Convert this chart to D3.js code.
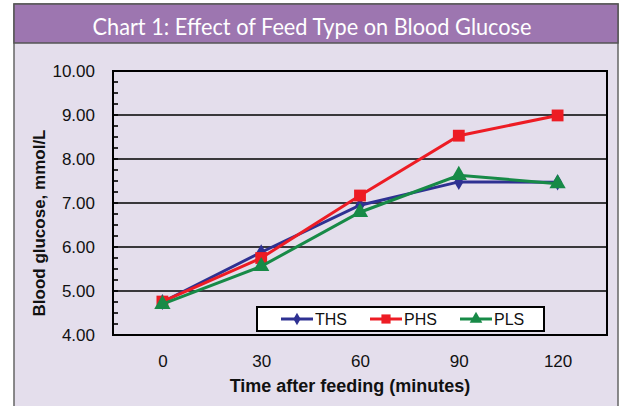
<!DOCTYPE html>
<meta charset="utf-8">
<style>
html, body { margin: 0; padding: 0; background: #fff; }
svg { display: block; }
</style>
<body>
<script src="https://d3js.org/d3.v7.min.js"></script>
<script>

var width = 624,
    height = 406;

// data
var times = ["0", "30", "60", "90", "120"];
var ths = [4.75, 5.88, 6.95, 7.48, 7.47];
var phs = [4.76, 5.75, 7.17, 8.53, 8.99];
var pls = [4.70, 5.56, 6.79, 7.63, 7.44];
var yTicks = [4, 5, 6, 7, 8, 9, 10];

var series = [
  {name: "THS", values: ths, color: "#2E3192", symbol: d3.symbolDiamond, size: 75},
  {name: "PHS", values: phs, color: "#ED1C24", symbol: d3.symbolSquare, size: 140},
  {name: "PLS", values: pls, color: "#178A47", symbol: d3.symbolTriangle, size: 115}
];

var plot = {left: 113, right: 607, top: 71, bottom: 335};

var svg = d3.select("body").append("svg")
  .attr("width", width)
  .attr("height", height);

// frame + title band
svg.append("rect")
  .attr("x", 14).attr("y", 4)
  .attr("width", 604).attr("height", 420)
  .attr("fill", "#E4DEEC")
  .attr("stroke", "#666").attr("stroke-width", 1.5);

svg.append("rect")
  .attr("x", 14).attr("y", 4)
  .attr("width", 604).attr("height", 39)
  .attr("fill", "#9D76B0")
  .attr("stroke", "#555").attr("stroke-width", 1.5);

svg.append("text")
  .attr("x", 312).attr("y", 35)
  .attr("text-anchor", "middle")
  .attr("fill", "#fff")
  .attr("font-family", "Lato, sans-serif")
  .attr("font-size", 23)
  .attr("textLength", 439)
  .attr("lengthAdjust", "spacingAndGlyphs")
  .text("Chart 1: Effect of Feed Type on Blood Glucose");

var x = d3.scalePoint()
  .domain(times)
  .range([plot.left, plot.right])
  .padding(0.5);

var y = d3.scaleLinear()
  .domain([4, 10])
  .range([plot.bottom, plot.top]);

// gridlines
svg.append("g")
  .selectAll("line")
  .data(yTicks)
  .enter().append("line")
  .attr("x1", plot.left).attr("x2", plot.right)
  .attr("y1", function(d){ return y(d); })
  .attr("y2", function(d){ return y(d); })
  .attr("stroke", "#000")
  .attr("stroke-width", 1.6);

// minor ticks on left axis, pointing in
var minor = d3.range(4, 10.001, 0.25);
svg.append("g")
  .selectAll("line")
  .data(minor)
  .enter().append("line")
  .attr("x1", plot.left).attr("x2", plot.left + 5)
  .attr("y1", function(d){ return y(d); })
  .attr("y2", function(d){ return y(d); })
  .attr("stroke", "#000")
  .attr("stroke-width", 1.6);

// plot border
svg.append("rect")
  .attr("x", plot.left).attr("y", plot.top)
  .attr("width", plot.right - plot.left)
  .attr("height", plot.bottom - plot.top)
  .attr("fill", "none")
  .attr("stroke", "#000")
  .attr("stroke-width", 2);

// axes labels via d3 axes (domain/ticks hidden)
var yAxis = svg.append("g")
  .attr("transform", "translate(" + (plot.left - 15) + ",0)")
  .call(d3.axisLeft(y).tickValues(yTicks).tickFormat(d3.format(".2f")).tickSize(0));
yAxis.select(".domain").remove();
yAxis.selectAll("text")
  .attr("font-family", "Arial, 'Liberation Sans', sans-serif")
  .attr("font-size", 17)
  .attr("fill", "#111")
  .attr("dy", "0.35em");

var xAxis = svg.append("g")
  .attr("transform", "translate(0," + (plot.bottom + 17) + ")")
  .call(d3.axisBottom(x).tickSize(0));
xAxis.select(".domain").remove();
xAxis.selectAll("text")
  .attr("font-family", "Arial, 'Liberation Sans', sans-serif")
  .attr("font-size", 17)
  .attr("fill", "#111");

svg.append("text")
  .attr("x", 350).attr("y", 392)
  .attr("text-anchor", "middle")
  .attr("font-family", "Arial, 'Liberation Sans', sans-serif")
  .attr("font-weight", "bold")
  .attr("font-size", 18)
  .attr("fill", "#111")
  .text("Time after feeding (minutes)");

svg.append("text")
  .attr("transform", "translate(45,223) rotate(-90)")
  .attr("text-anchor", "middle")
  .attr("font-family", "Arial, 'Liberation Sans', sans-serif")
  .attr("font-weight", "bold")
  .attr("font-size", 17)
  .attr("fill", "#111")
  .text("Blood glucose, mmol/L");

// lines and markers
var line = d3.line()
  .x(function(d, i){ return x(times[i]); })
  .y(function(d){ return y(d); });

var g = svg.append("g").selectAll("g")
  .data(series)
  .enter().append("g");

g.append("path")
  .attr("d", function(s){ return line(s.values); })
  .attr("fill", "none")
  .attr("stroke", function(s){ return s.color; })
  .attr("stroke-width", 3);

g.each(function(s){
  d3.select(this).selectAll("path.pt")
    .data(s.values)
    .enter().append("path")
    .attr("class", "pt")
    .attr("transform", function(d, i){ return "translate(" + x(times[i]) + "," + y(d) + ")"; })
    .attr("d", d3.symbol().type(s.symbol).size(s.size))
    .attr("fill", s.color);
});

// legend
var legend = svg.append("g");
legend.append("rect")
  .attr("x", 257).attr("y", 307)
  .attr("width", 287).attr("height", 24)
  .attr("fill", "#fff")
  .attr("stroke", "#000")
  .attr("stroke-width", 2);

var legX = [281, 370, 460];
var items = legend.selectAll("g.item")
  .data(series)
  .enter().append("g")
  .attr("class", "item")
  .attr("transform", function(s, i){ return "translate(" + legX[i] + ",319)"; });

items.append("line")
  .attr("x1", 0).attr("x2", 32)
  .attr("stroke", function(s){ return s.color; })
  .attr("stroke-width", 3);

items.append("path")
  .attr("transform", "translate(16,0)")
  .attr("d", function(s){ return d3.symbol().type(s.symbol).size(s.size * 0.6)(); })
  .attr("fill", function(s){ return s.color; });

items.append("text")
  .attr("x", 34).attr("y", 6)
  .attr("font-family", "Arial, 'Liberation Sans', sans-serif")
  .attr("font-size", 16)
  .attr("fill", "#111")
  .text(function(s){ return s.name; });

</script>
</body>
